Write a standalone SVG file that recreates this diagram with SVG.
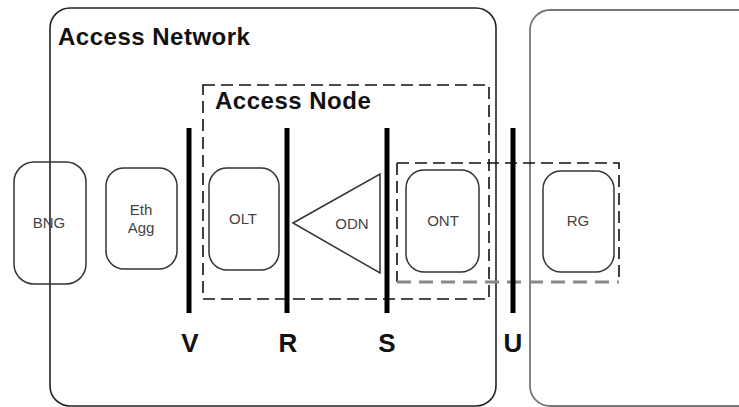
<svg xmlns="http://www.w3.org/2000/svg" width="739" height="407" viewBox="0 0 739 407">
<style>
.box{fill:none;stroke:#222;stroke-width:1.6}
.node{fill:#fff;stroke:#333;stroke-width:1.5}
.dash{fill:none;stroke:#111;stroke-width:1.6;stroke-dasharray:12 6}
.bar{stroke:#000;stroke-width:5}
.lbl{font-family:"Liberation Sans",Arial,sans-serif;font-size:15px;fill:#444;text-anchor:middle}
.big{font-family:"Liberation Sans",Arial,sans-serif;font-weight:bold;font-size:24px;letter-spacing:0.5px;fill:#111}
.ref{font-family:"Liberation Sans",Arial,sans-serif;font-weight:bold;font-size:26px;fill:#111;text-anchor:middle}
</style>
<rect width="739" height="407" fill="#fff"/>
<g id="access-network">
<rect class="box" x="50" y="8" width="446" height="398" rx="20"/>
<text class="big" x="58" y="45">Access Network</text>
</g>
<g id="customer-premises">
<rect x="530" y="10" width="240" height="396" rx="20" fill="none" stroke="#777" stroke-width="1.8"/>
</g>
<g id="access-node">
<rect class="dash" x="203" y="85" width="286" height="214"/>
<text class="big" x="215" y="109">Access Node</text>
</g>
<g id="bng">
<rect class="node" x="14" y="162" width="72" height="122" rx="20" style="fill:none"/>
<text class="lbl" x="49" y="228">BNG</text>
</g>
<g id="eth-agg">
<rect class="node" x="106" y="168" width="71" height="101" rx="18"/>
<text class="lbl" x="141" y="215">Eth</text>
<text class="lbl" x="141" y="233">Agg</text>
</g>
<g id="olt">
<rect class="node" x="209" y="168" width="70" height="102" rx="18"/>
<text class="lbl" x="243" y="224">OLT</text>
</g>
<g id="odn">
<polygon points="293,223 380,174 380,273" fill="#fff" stroke="#333" stroke-width="1.5"/>
<text class="lbl" x="352" y="229">ODN</text>
</g>
<g id="ont-rg-group">
<path class="dash" d="M397,163 H619 V282"/>
<path d="M397,163 V282" class="dash"/>
<line x1="397" y1="282" x2="619" y2="282" stroke="#888" stroke-width="3" stroke-dasharray="14 8"/>
</g>
<g id="ont">
<rect class="node" x="406" y="170" width="73" height="102" rx="18"/>
<text class="lbl" x="443" y="226">ONT</text>
</g>
<g id="rg">
<rect class="node" x="543" y="171" width="71" height="101" rx="18"/>
<text class="lbl" x="578" y="226">RG</text>
</g>
<g id="connectors">
<line class="bar" x1="189" y1="128" x2="189" y2="313"/>
<line class="bar" x1="287" y1="128" x2="287" y2="313"/>
<line class="bar" x1="387" y1="128" x2="387" y2="313"/>
<line class="bar" x1="513" y1="128" x2="513" y2="313"/>
</g>
<g id="reference-points">
<text class="ref" x="190" y="352">V</text>
<text class="ref" x="288" y="352">R</text>
<text class="ref" x="387" y="352">S</text>
<text class="ref" x="513" y="352">U</text>
</g>
</svg>
